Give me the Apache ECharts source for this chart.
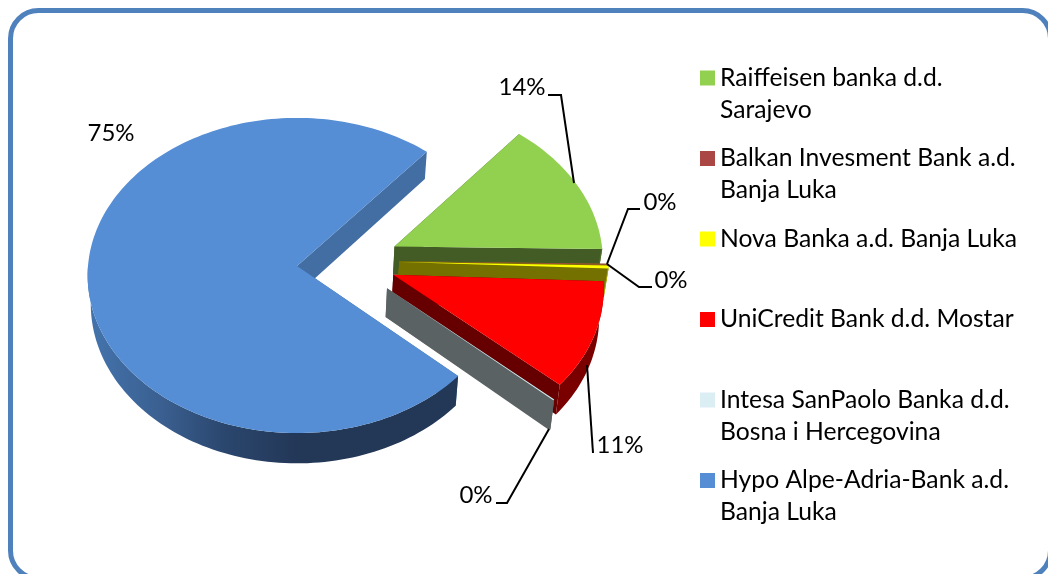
<!DOCTYPE html>
<html><head><meta charset="utf-8">
<style>html,body{margin:0;padding:0;background:#fff}#c{width:1048px;height:574px}</style>
<script src="https://cdn.jsdelivr.net/npm/echarts@6/dist/echarts.min.js"></script>
</head><body><div id="c"></div>
<script>
// ---- data ----
const banks = ['Raiffeisen banka d.d.\nSarajevo','Balkan Invesment Bank a.d.\nBanja Luka','Nova Banka a.d. Banja Luka','UniCredit Bank d.d. Mostar','Intesa SanPaolo Banka d.d.\nBosna i Hercegovina','Hypo Alpe-Adria-Bank a.d.\nBanja Luka'];
const shares = [14.0, 0.1, 0.3, 11.0, 0.1, 74.5];
const startAngle = -49.5;

// ---- styling ----
const FONT = 'Lato';
const topColors = ['#92d050','#aa4644','#ffff00','#ff0000','#dbeef4','#558ed5'];
const cutColors = ['#435c26','#757100','#757100','#660000','#5a6264','#426ea3'];
const arcColors = ['#4f6f2c','#757100','#b5b000','#7a0000','#5a6264','#233757'];
// explosion offset of each slice in unit-circle space
const explodeU = [0.47, 0.49, 0.49, 0.459, 0.427, 0];
const explodeV = [-0.125, -0.03, -0.025, 0.055, 0.14, 0];
const drawOrder = [1, 2, 3, 4, 5, 0];
const labelBoxes = [
  {text:[522,87],  line:[[548,95],[561,95],[574,183]]},
  {text:[660,202], line:[[640,209],[628,209],[607,264]]},
  {text:[671,280], line:[[607,264],[639,287],[652,287]]},
  {text:[620,445], line:[[587,365],[593,453]]},
  {text:[476,495], line:[[549,429],[507,503],[496,503]]},
  {text:[111,133], line:null}
];
const CX = 297, CY = 266, RX = 209, RY = 157, PERSP = 0.06, DEPTH = 28.5, LOW_SCALE = 0.985;

function project(u, v) {
  const f = 1 / (1 - PERSP * v);
  return [CX + RX * u * f, CY + RY * v * f, f];
}
function lower(p) {
  return [CX + (p[0] - CX) * LOW_SCALE, p[1] + DEPTH * p[2]];
}
const total = shares.reduce((a, b) => a + b, 0);
function sliceAngles(i) {
  let a = startAngle;
  for (let k = 0; k < i; k++) a += shares[k] / total * 360;
  return [a, a + shares[i] / total * 360];
}
function renderSlice(i) {
  return function (params, api) {
    const value = api.value(0);
    const [a0, a1] = sliceAngles(i);
    const du = explodeU[i], dv = explodeV[i];
    const steps = Math.max(2, Math.ceil((a1 - a0) / 1.5));
    const arc = [], front = [], frontLow = [];
    let firstP, lastP;
    for (let s = 0; s <= steps; s++) {
      const t = (a0 + (a1 - a0) * s / steps) * Math.PI / 180;
      const p = project(du + Math.cos(t), dv + Math.sin(t));
      arc.push([p[0], p[1]]);
      if (s === 0) firstP = p;
      if (s === steps) lastP = p;
      if (Math.sin(t) >= -0.02) {
        front.push([p[0], p[1]]);
        frontLow.push(lower(p));
      }
    }
    const c = project(du, dv);
    const apex = [c[0], c[1]];
    const arcFill = i === 5
      ? new echarts.graphic.LinearGradient(88, 0, 300, 0, [
          {offset: 0, color: '#4474ad'}, {offset: 0.35, color: '#3a5f90'},
          {offset: 0.65, color: '#2a466d'}, {offset: 1, color: arcColors[5]}], true)
      : arcColors[i];
    const children = [
      {type:'polygon', shape:{points:[apex, [firstP[0],firstP[1]], lower(firstP), lower(c)]}, style:{fill:cutColors[i]}},
      {type:'polygon', shape:{points:[apex, [lastP[0],lastP[1]], lower(lastP), lower(c)]}, style:{fill:cutColors[i]}}
    ];
    if (front.length > 1) children.push({type:'polygon', shape:{points:front.concat(frontLow.slice().reverse())}, style:{fill:arcFill}});
    children.push({type:'polygon', shape:{points:[apex].concat(arc)}, style:{fill:topColors[i]}});
    const lb = labelBoxes[i];
    if (lb.line) children.push({type:'polyline', z2:50, shape:{points:lb.line}, style:{fill:null, stroke:'#000', lineWidth:2}});
    children.push({type:'text', z2:51, x:lb.text[0], y:lb.text[1], style:{
      text: Math.round(value / total * 100) + '%', fill:'#000', font:'24px ' + FONT, align:'center', verticalAlign:'middle'}});
    return {type:'group', children};
  };
}
const series = banks.map((name, i) => ({
  type:'custom', name, coordinateSystem:'none', silent:true,
  z: 2 + drawOrder[i], color: topColors[i], itemStyle:{color: topColors[i]},
  data:[[shares[i]]], renderItem: renderSlice(i), animation:false
}));
const chart = echarts.init(document.getElementById('c'), null, {renderer:'canvas'});
chart.setOption({
  backgroundColor:'#fff', animation:false,
  graphic:[{type:'rect', z:0, silent:true, shape:{x:10.5, y:10.5, width:1040, height:568, r:28},
    style:{fill:'#fff', stroke:'#4f81bd', lineWidth:5}}],
  legend:{
    data: banks, orient:'vertical', left:695, top:25, itemWidth:15, itemHeight:15,
    itemGap:-15.5, selectedMode:false, icon:'rect',
    formatter: n => ' \n' + n + (n.includes('\n') ? '' : '\n '),
    textStyle:{fontFamily:FONT, fontSize:24.7, lineHeight:32, color:'#000'}
  },
  series
});
</script></body></html>
